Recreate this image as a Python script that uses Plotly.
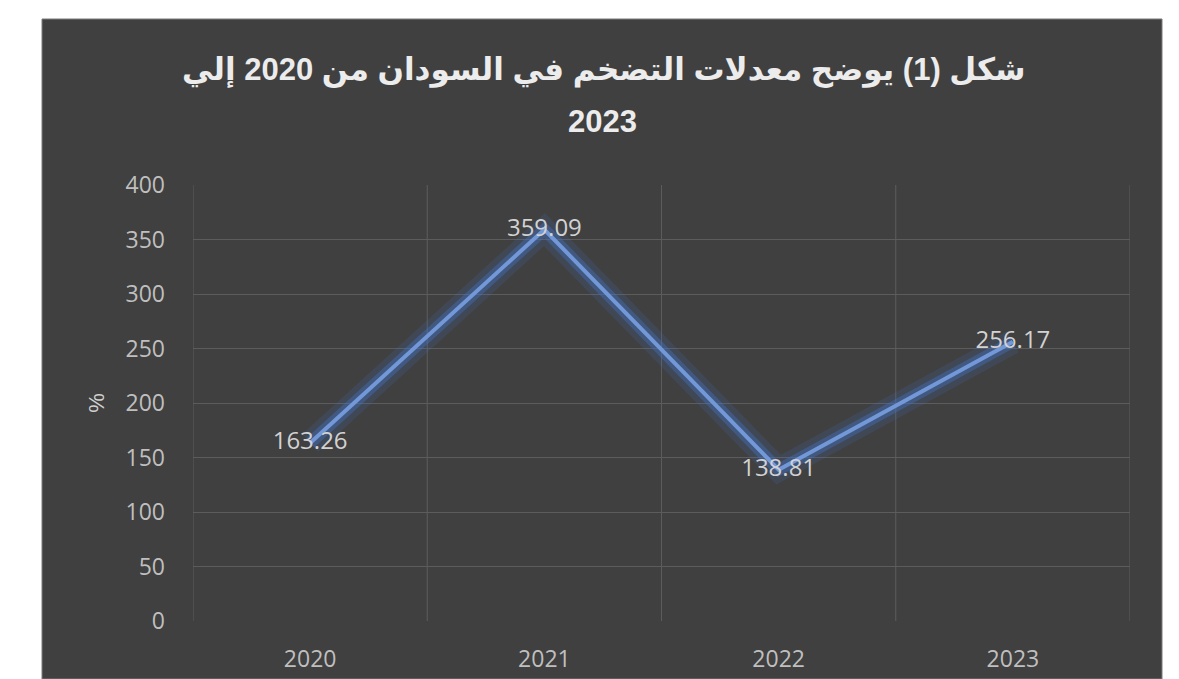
import plotly.graph_objects as go

years = ["2020", "2021", "2022", "2023"]
inflation = [163.26, 359.09, 138.81, 256.17]
labels = ["163.26", "359.09", "138.81", "256.17"]
y_ticks = [0, 50, 100, 150, 200, 250, 300, 350, 400]
title_line1 = "شكل (1) يوضح معدلات التضخم في السودان من 2020 إلي"
title_line2 = "2023"
y_title = "%"

W, H = 1179, 679
L, R, T, B = 193, 49, 185, 58
pw, ph = W - L - R, H - T - B

def px_x(x):
    return (x - L) / pw

def px_y(y):
    return (H - B - y) / ph

fig = go.Figure()

# glow layers
fig.add_trace(go.Scatter(x=years, y=inflation, mode="lines",
                         line=dict(color="rgba(68,114,196,0.16)", width=24),
                         hoverinfo="skip", showlegend=False))
fig.add_trace(go.Scatter(x=years, y=inflation, mode="lines",
                         line=dict(color="rgba(68,114,196,0.40)", width=12),
                         hoverinfo="skip", showlegend=False))
fig.add_trace(go.Scatter(x=years, y=inflation, mode="lines+text",
                         line=dict(color="#7398d8", width=4),
                         text=labels, textposition="middle center",
                         textfont=dict(color="#d2d2d2", size=24, family="Open Sans, Arial"),
                         showlegend=False))

fig.add_shape(type="rect", xref="paper", yref="paper",
              x0=px_x(42), x1=px_x(1162), y0=px_y(679), y1=px_y(19),
              fillcolor="#404040", line=dict(color="#7a7a7a", width=1), layer="below")

title_font = dict(family="Arial, DejaVu Sans", size=31, color="#ececec")
fig.add_annotation(text="<b>" + title_line1 + "</b>", xref="paper", yref="paper",
                   x=px_x(604), y=px_y(70), xanchor="center", yanchor="middle",
                   showarrow=False, font=title_font)
fig.add_annotation(text="<b>" + title_line2 + "</b>", xref="paper", yref="paper",
                   x=px_x(602), y=px_y(121), xanchor="center", yanchor="middle",
                   showarrow=False, font=title_font)

fig.update_layout(
    width=W, height=H,
    margin=dict(l=L, r=R, t=T, b=B, autoexpand=False),
    paper_bgcolor="white",
    plot_bgcolor="rgba(0,0,0,0)",
    xaxis=dict(type="category", range=[-0.5, 3.5], showgrid=False, automargin=False,
               tickfont=dict(family="Open Sans, Arial", size=23, color="#bfbfbf"),
               ticks="", showline=False, zeroline=False, ticklabelstandoff=22),
    yaxis=dict(range=[0, 400], tickvals=y_ticks, showgrid=True, automargin=False,
               gridcolor="#5c5c5c", gridwidth=1, zeroline=False,
               tickfont=dict(family="Open Sans, Arial", size=23, color="#bfbfbf"),
               ticks="", ticklabelstandoff=27,
               title=dict(text=y_title, font=dict(family="Arial, DejaVu Sans", size=22, color="#d0d0d0"),
                          standoff=14)),
)

# vertical gridlines at category boundaries
for b in [-0.5, 0.5, 1.5, 2.5, 3.5]:
    fig.add_shape(type="line", xref="x", yref="paper", x0=b, x1=b, y0=0, y1=1,
                  line=dict(color="#5c5c5c", width=1), layer="below")

fig.write_html("out.html")
